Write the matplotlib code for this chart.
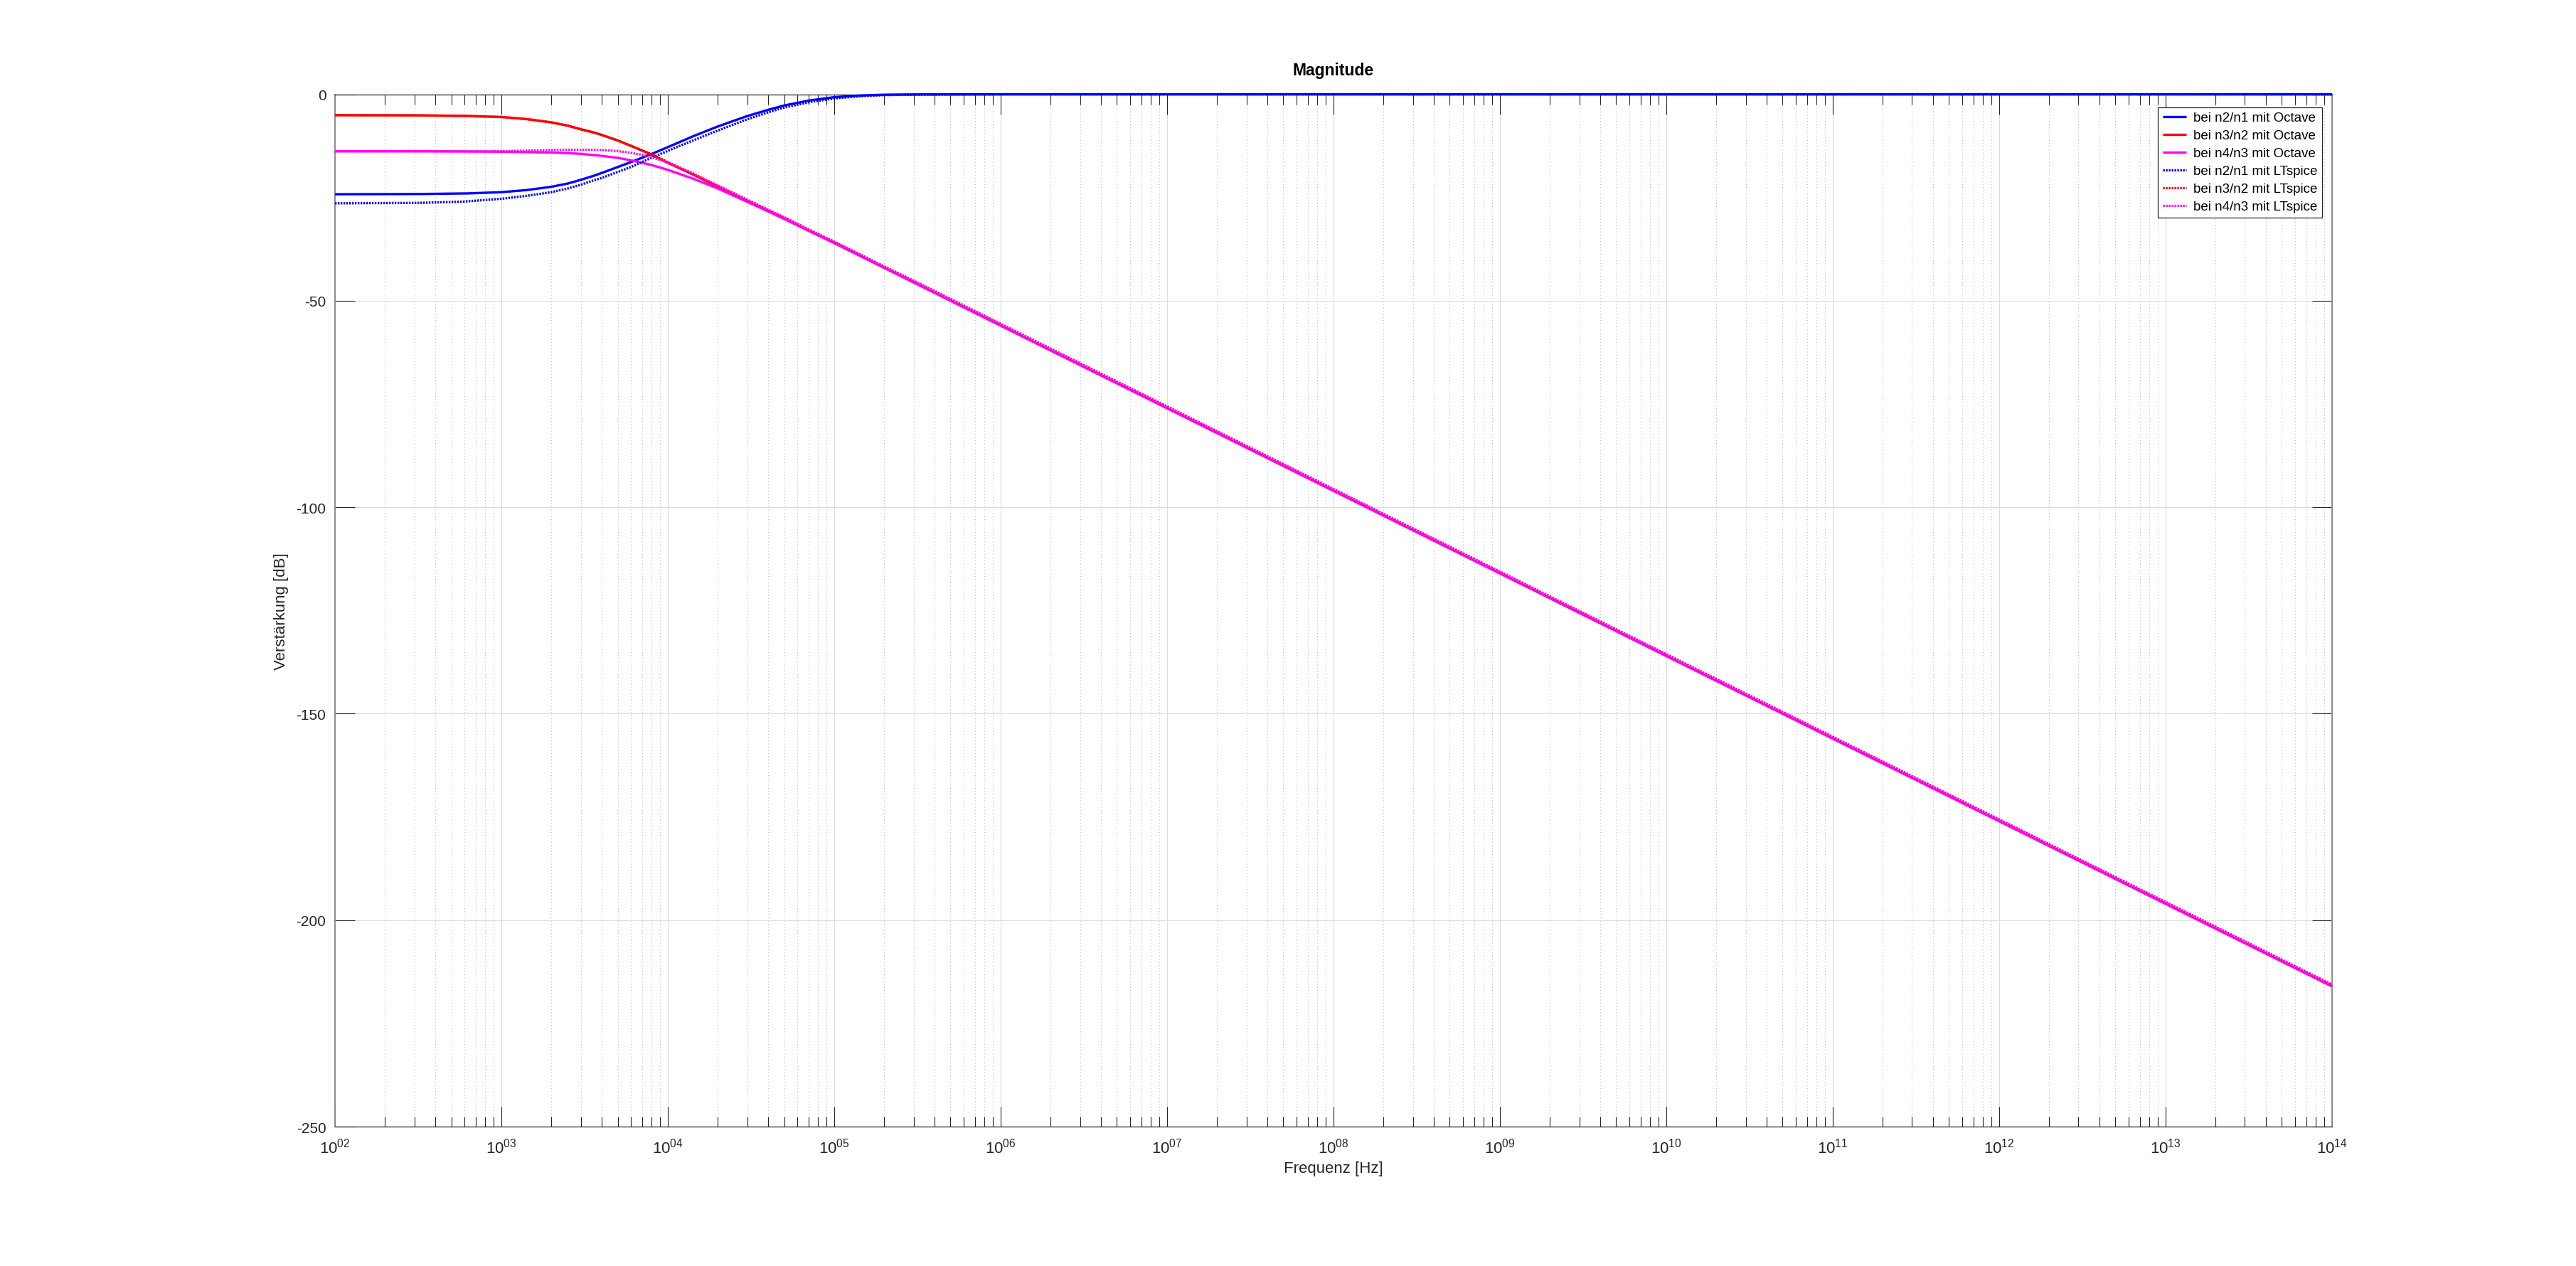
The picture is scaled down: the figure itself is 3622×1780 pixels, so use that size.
import numpy as np
import matplotlib
matplotlib.use('Agg')
import matplotlib.pyplot as plt
from matplotlib.ticker import FixedLocator, LogLocator, NullLocator, NullFormatter

plt.rcParams['font.family'] = ['Liberation Sans', 'DejaVu Sans']
plt.rcParams['mathtext.fontset'] = 'custom'
plt.rcParams['mathtext.rm'] = 'Liberation Sans'
plt.rcParams['mathtext.it'] = 'Liberation Sans:italic'
plt.rcParams['mathtext.bf'] = 'Liberation Sans:bold'
plt.rcParams['axes.unicode_minus'] = False

# ---------------- data ----------------
logf_octave = [2.0, 2.5, 2.8, 3.0, 3.15, 3.3, 3.4, 3.47, 3.55, 3.6, 3.7, 3.78, 3.9, 4.0,
               4.15, 4.3, 4.475, 4.6, 4.7, 4.85, 5.0, 5.15, 5.3, 5.5,
               6, 7, 8, 9, 10, 11, 12, 13, 14]
n2n1_octave = [-24.2, -24.15, -24.0, -23.7, -23.2, -22.4, -21.6, -20.8, -19.8, -19.1,
               -17.6, -16.4, -14.5, -12.8, -10.2, -7.8, -5.3, -3.8, -2.7, -1.5, -0.7,
               -0.3, -0.1, -0.03, 0, 0, 0, 0, 0, 0, 0, 0, 0]
n3n2_octave = [-5.05, -5.1, -5.25, -5.5, -6.0, -6.8, -7.6, -8.4, -9.2, -9.8, -11.2,
               -12.5, -14.6, -16.6, -19.4, -22.4, -25.8, -28.2, -30.1, -33.1, -36.0,
               -39.0, -42.0, -46.0, -56, -76, -96, -116, -136, -156, -176, -196, -216]
n4n3_octave = [-13.8, -13.8, -13.85, -13.9, -14.0, -14.1, -14.25, -14.4, -14.7, -14.9,
               -15.4, -16.0, -17.1, -18.3, -20.4, -22.8, -26.0, -28.3, -30.2, -33.1,
               -36.0, -39.0, -42.0, -46.0, -56, -76, -96, -116, -136, -156, -176, -196, -216]

logf_ltspice = [2.0, 2.5, 2.77, 3.0, 3.15, 3.3, 3.4, 3.47, 3.55, 3.6, 3.7, 3.78, 3.85, 3.9,
                4.0, 4.15, 4.3, 4.475, 4.6, 4.7, 4.85, 5.0, 5.15, 5.3, 5.5,
                6, 7, 8, 9, 10, 11, 12, 13, 14]
n2n1_ltspice = [-26.4, -26.3, -26.0, -25.3, -24.6, -23.7, -22.8, -22.0, -20.9, -20.3,
                -18.8, -17.6, -16.3, -15.4, -13.7, -11.2, -8.8, -6.1, -4.4, -3.2, -1.9,
                -1.0, -0.5, -0.2, -0.08, 0, 0, 0, 0, 0, 0, 0, 0, 0]
n3n2_ltspice = [-5.05, -5.1, -5.25, -5.5, -6.0, -6.8, -7.6, -8.4, -9.2, -9.8, -11.2,
                -12.5, -13.6, -14.5, -16.4, -19.2, -22.1, -25.5, -27.9, -29.8, -32.8,
                -35.7, -38.7, -41.7, -45.6, -55.6, -75.6, -95.6, -115.6, -135.6,
                -155.6, -175.6, -195.6, -215.6]
n4n3_ltspice = [-13.8, -13.8, -13.8, -13.75, -13.65, -13.5, -13.45, -13.45, -13.45, -13.5,
                -13.75, -14.2, -14.7, -15.2, -16.5, -19.1, -22.1, -25.5, -27.9, -29.8,
                -32.8, -35.7, -38.7, -41.7, -45.6, -55.6, -75.6, -95.6, -115.6, -135.6,
                -155.6, -175.6, -195.6, -215.6]

labels = ['bei n2/n1 mit Octave', 'bei n3/n2 mit Octave', 'bei n4/n3 mit Octave',
          'bei n2/n1 mit LTspice', 'bei n3/n2 mit LTspice', 'bei n4/n3 mit LTspice']

xtick_exponents = list(range(2, 15))
xtick_labels = [r'$\mathregular{10^{%02d}}$' % e for e in xtick_exponents]
ytick_values = [0, -50, -100, -150, -200, -250]
ytick_labels = ['0', '-50', '-100', '-150', '-200', '-250']

# ---------------- figure ----------------
fig = plt.figure(figsize=(36.23, 17.81), dpi=100)
ax = fig.add_axes([0.13, 0.11, 0.775, 0.815])

f_oct = 10.0 ** np.array(logf_octave)
f_lt = 10.0 ** np.array(logf_ltspice)

lw = 2.4
dot = (0, (0.7, 0.5))
common = dict(lw=lw, clip_on=False, solid_capstyle='butt', dash_capstyle='butt', zorder=3)
ax.plot(f_oct, n2n1_octave, color=(0, 0, 1), ls='-', label=labels[0], **common)
ax.plot(f_oct, n3n2_octave, color=(1, 0, 0), ls='-', label=labels[1], **common)
ax.plot(f_oct, n4n3_octave, color=(1, 0, 1), ls='-', label=labels[2], **common)
ax.plot(f_lt, n2n1_ltspice, color=(0, 0, 1), ls=dot, label=labels[3], **common)
ax.plot(f_lt, n3n2_ltspice, color=(1, 0, 0), ls=dot, label=labels[4], **common)
ax.plot(f_lt, n4n3_ltspice, color=(1, 0, 1), ls=dot, label=labels[5], **common)

ax.set_xscale('log')
ax.set_xlim(10.0 ** xtick_exponents[0], 10.0 ** xtick_exponents[-1])
ax.set_ylim(ytick_values[-1], ytick_values[0])

ax.xaxis.set_major_locator(FixedLocator([10.0 ** e for e in xtick_exponents]))
ax.set_xticklabels(xtick_labels)
ax.xaxis.set_minor_locator(LogLocator(base=10, subs=range(2, 10), numticks=200))
ax.xaxis.set_minor_formatter(NullFormatter())
ax.yaxis.set_major_locator(FixedLocator(ytick_values))
ax.set_yticklabels(ytick_labels)
ax.yaxis.set_minor_locator(NullLocator())

ax.set_axisbelow(True)
ax.grid(which='major', color='#dcdcdc', lw=0.8, ls='-')
ax.grid(which='minor', axis='x', color='#bdbdbd', lw=0.8, ls=(0, (1, 3)))

ax.tick_params(which='both', direction='in', top=True, right=True,
               color='#262626', width=0.8, labelcolor='#262626', labelsize=15)
ax.tick_params(which='major', length=20)
ax.tick_params(which='minor', length=10)
ax.tick_params(axis='x', which='major', pad=11, labelsize=16)
ax.tick_params(axis='y', which='major', pad=9)

for s in ('top', 'bottom'):
    ax.spines[s].set_color('#262626')
    ax.spines[s].set_linewidth(0.9)
for s in ('left', 'right'):
    ax.spines[s].set_color('#8a8a8a')
    ax.spines[s].set_linewidth(1.4)

ax.set_title('Magnitude', fontsize=16.5, fontweight='bold', color='black', pad=0,
             y=1 + (134 - 100) / 1451, va='center')
ax.set_xlabel('Frequenz [Hz]', fontsize=16, color='#262626')
ax.xaxis.set_label_coords(0.5, -(1643 - 1585) / 1451)
ax.xaxis.label.set_verticalalignment('center')
ax.set_ylabel('Verstärkung [dB]', fontsize=16, color='#262626')
ax.yaxis.set_label_coords((396 - 471) / 2808, 0.5)
ax.yaxis.label.set_verticalalignment('center')

leg = ax.legend(loc='upper right', bbox_to_anchor=(0.995, 0.9876), borderaxespad=0,
                fontsize=13.5, fancybox=False, edgecolor='#262626', framealpha=1,
                handlelength=1.8, handletextpad=0.5, labelspacing=0.42, borderpad=0.35)
leg.get_frame().set_linewidth(0.9)
leg.set_zorder(5)

fig.savefig('out.png', dpi=100, facecolor='white')
